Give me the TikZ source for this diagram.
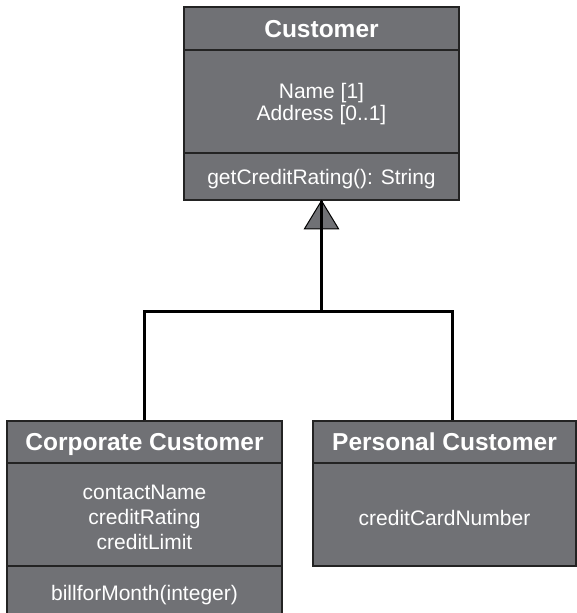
\documentclass[tikz,border=0pt]{standalone}
\usepackage{fontspec}
\setmainfont{Liberation Sans}
\definecolor{boxgray}{RGB}{112,113,117}
\definecolor{edgecol}{RGB}{35,35,35}
\tikzset{
  compart/.style={draw=edgecol, fill=boxgray, line width=1.5pt, rectangle, inner sep=0pt},
  headtext/.style={text=white, font=\fontsize{24.5}{28}\selectfont\bfseries, text height=17.6pt, text depth=0pt},
  bodytext/.style={text=white, font=\fontsize{21}{22}\selectfont, align=center},
  bodywide/.style={text=white, font=\fontsize{21}{25}\selectfont, align=center},
  link/.style={draw=black, line width=3pt, line join=miter},
  gentri/.style={draw=black, fill=boxgray, line width=1pt, line join=miter},
}
\begin{document}
\begin{tikzpicture}[x=1pt,y=-1pt]
\useasboundingbox (0,0) rectangle (577,613);
% Customer
\node[compart, headtext, minimum width=275pt, minimum height=43pt] (custHead) at (321.5,28.5) {Customer};
\node[compart, minimum width=275pt, minimum height=103pt] (custAttr) at (321.5,101.5) {};
\node[bodytext] (custAttrT) at ([yshift=-3pt]custAttr.center) {Name [1]\\Address [0..1]};
\node[compart, minimum width=275pt, minimum height=47pt] (custOps) at (321.5,176.5) {};
\node[bodytext] (custOpsT) at ([yshift=-3pt]custOps.center) {getCreditRating(): String};
% Corporate Customer
\node[compart, headtext, minimum width=275pt, minimum height=42pt] (corpHead) at (144.5,442) {Corporate Customer};
\node[compart, minimum width=275pt, minimum height=103pt] (corpAttr) at (144.5,514.5) {};
\node[bodywide] (corpAttrT) at ([yshift=-3pt]corpAttr.center) {contactName\\creditRating\\creditLimit};
\node[compart, minimum width=275pt, minimum height=53pt] (corpOps) at (144.5,592.5) {};
\node[bodytext] (corpOpsT) at ([yshift=-3pt]corpOps.center) {billforMonth(integer)};
% Personal Customer
\node[compart, headtext, minimum width=263pt, minimum height=42pt] (persHead) at (444.5,442) {Personal Customer};
\node[compart, minimum width=263pt, minimum height=103pt] (persAttr) at (444.5,514.5) {};
\node[bodytext] (persAttrT) at ([yshift=-3pt]persAttr.center) {creditCardNumber};
% generalization
\coordinate (apex) at (custOps.south);
\coordinate (bar) at (apex |- 0,311);
\coordinate (corpTop) at (corpHead.north);
\coordinate (persTop) at ([xshift=7.5pt]persHead.north);
\draw[gentri] (apex) -- ([xshift=-17pt,yshift=-28pt]apex) -- ([xshift=17pt,yshift=-28pt]apex) -- cycle;
\draw[link] (corpTop) -- (corpTop |- bar) -- (persTop |- bar) -- (persTop);
\draw[link] (bar) -- (apex);
\end{tikzpicture}
\end{document}
